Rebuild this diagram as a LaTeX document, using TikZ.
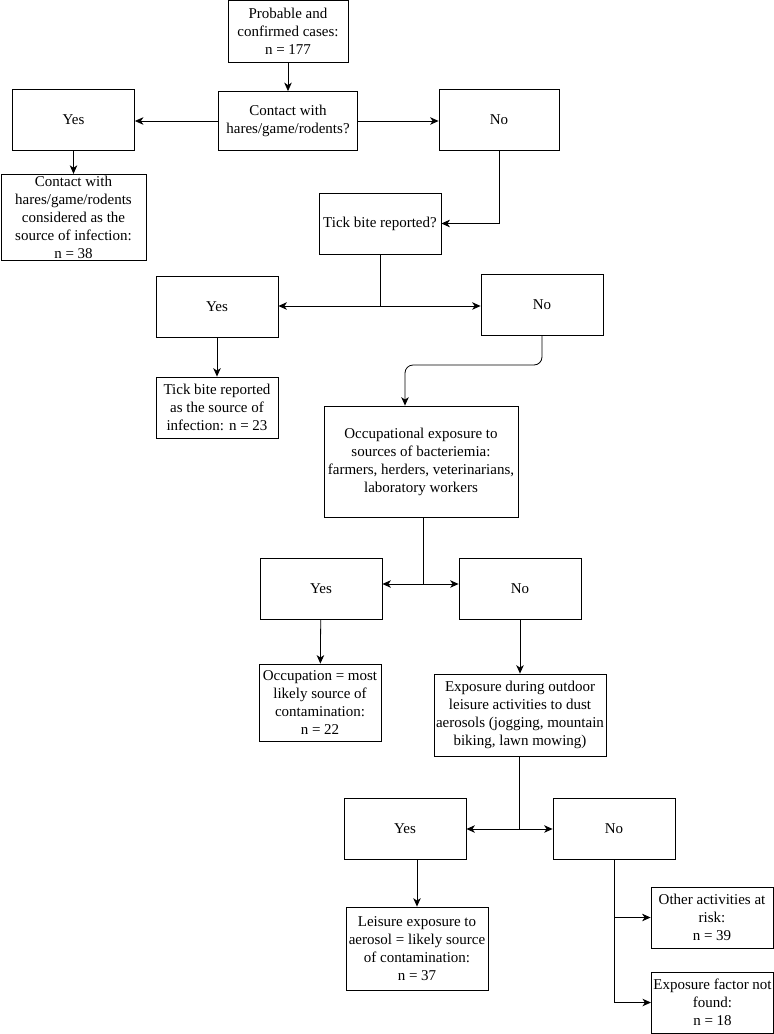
\documentclass[tikz,border=0pt]{standalone}
\usepackage{fontspec}
\setmainfont{Liberation Serif}
\usetikzlibrary{arrows.meta}
\tikzset{
  box/.style={draw, line width=0.8pt, align=center, inner sep=2pt,
    font=\fontsize{15}{18}\selectfont},
  arr/.style={-{Stealth[length=8.5pt,width=7.5pt,inset=2.5pt]}, line width=0.8pt},
  link/.style={line width=0.8pt},
}

\begin{document}
\begin{tikzpicture}[x=1pt,y=-1pt]
    \useasboundingbox (0,0) rectangle (774,1034);
    % first question: hares/game/rodents
    \node[box, minimum width=120, minimum height=62] (start) at (288,31) {Probable and\\confirmed cases:\\n = 177};
    \node[box, minimum width=139, minimum height=59] (qhares) at (288,121) {Contact with\\hares/game/rodents?};
    \node[box, minimum width=122, minimum height=61] (yeshares) at (73.5,120) {Yes};
    \node[box, minimum width=120, minimum height=61] (nohares) at (499,120) {No};
    \node[box, minimum width=145, minimum height=85] (reshares) at (73.5,217.5) {Contact with\\hares/game/rodents\\considered as the\\source of infection:\\n = 38};
    % second question: tick bite
    \node[box, minimum width=122, minimum height=61] (qtick) at (380,223.5) {Tick bite reported?};
    \node[box, minimum width=122, minimum height=61] (yestick) at (217,306.5) {Yes};
    \node[box, minimum width=122, minimum height=61] (notick) at (542,304.5) {No};
    \node[box, minimum width=122, minimum height=61] (restick) at (217,407.5) {Tick bite reported\\as the source of\\infection: n = 23};
    % third question: occupation
    \node[box, minimum width=194, minimum height=111] (qocc) at (421,461.5) {Occupational exposure to\\sources of bacteriemia:\\farmers, herders, veterinarians,\\laboratory workers};
    \node[box, minimum width=122, minimum height=61] (yesocc) at (321,588.5) {Yes};
    \node[box, minimum width=122, minimum height=61] (noocc) at (520,588.5) {No};
    \node[box, minimum width=122, minimum height=77] (resocc) at (320,702.5) {Occupation = most\\likely source of\\contamination:\\n = 22};
    % fourth question: leisure
    \node[box, minimum width=170, minimum height=82] (qleis) at (520,715) {Exposure during outdoor\\leisure activities to dust\\aerosols (jogging, mountain\\biking, lawn mowing)};
    \node[box, minimum width=122, minimum height=61] (yesleis) at (405,828.5) {Yes};
    \node[box, minimum width=122, minimum height=61] (noleis) at (614,828.5) {No};
    \node[box, minimum width=142, minimum height=83] (resleis) at (417,948.5) {Leisure exposure to\\aerosol = likely source\\of contamination:\\n = 37};
    \node[box, minimum width=122, minimum height=61] (other) at (712,917.5) {Other activities at\\risk:\\n = 39};
    \node[box, minimum width=121, minimum height=61] (notfound) at (712.5,1002.5) {Exposure factor not\\found:\\n = 18};

    \coordinate (ktick) at (380,306);
    \coordinate (kbend) at (405,365);
    \coordinate (kocc) at (423,584);
    \coordinate (kleis) at (519,829);

    \draw[arr] (start) -- (qhares);
    \draw[arr] (qhares.west) -- (qhares.west -| yeshares.east);
    \draw[arr] (qhares.east) -- (qhares.east -| nohares.west);
    \draw[arr] (yeshares) -- (reshares);
    \draw[arr] (nohares.south) |- (qtick.east);

    \draw[link] (qtick.south) -- (ktick);
    \draw[arr] (ktick) -- (ktick -| yestick.east);
    \draw[arr] (ktick) -- (ktick -| notick.west);
    \draw[arr] (yestick) -- (restick);
    \draw[arr, rounded corners=8pt] (notick.south) |- (kbend) -- (qocc.north -| kbend);

    \draw[link] (qocc.south -| kocc) -- (kocc);
    \draw[arr] (kocc) -- (kocc -| yesocc.east);
    \draw[arr] (kocc) -- (kocc -| noocc.west);
    \draw[arr] (yesocc) -- (resocc);
    \draw[arr] (noocc) -- (qleis);

    \draw[link] (qleis.south -| kleis) -- (kleis);
    \draw[arr] (kleis) -- (kleis -| yesleis.east);
    \draw[arr] (kleis) -- (kleis -| noleis.west);
    \draw[arr] (yesleis.south -| resleis.north) -- (resleis.north);
    \draw[arr] (noleis.south) |- (notfound.west);
    \draw[arr] (noleis.south |- other.west) -- (other.west);
\end{tikzpicture}
\end{document}
